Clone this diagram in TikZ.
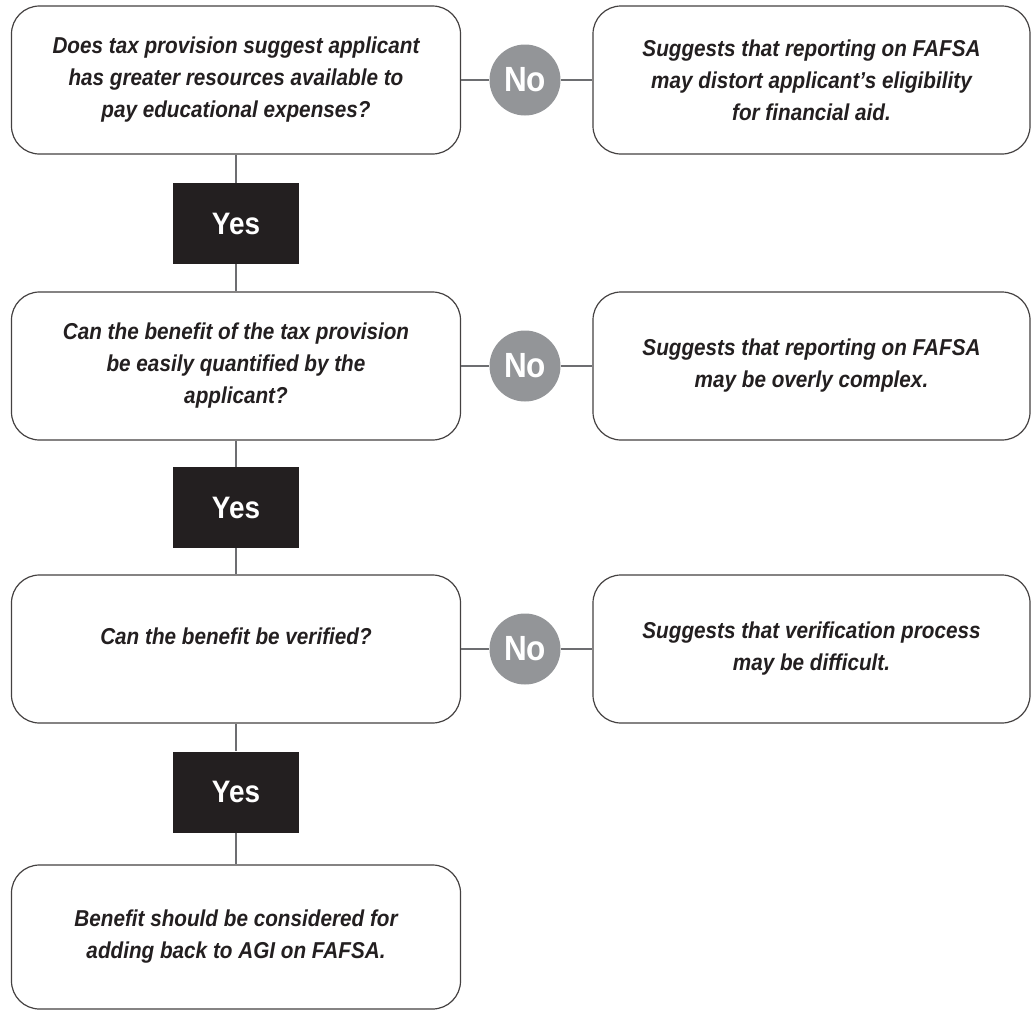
\documentclass[tikz,border=0pt]{standalone}
\usepackage{fontspec}
\setmainfont{Liberation Sans}[FakeStretch=0.9]
\definecolor{ink}{HTML}{231F20}
\definecolor{rule}{HTML}{6D6E71}
\definecolor{dot}{HTML}{939598}
\tikzset{
  question/.style={draw=ink!85, line width=1.2bp, rounded corners=28bp,
    minimum width=449bp, minimum height=148bp, align=center, text=ink,
    font=\fontsize{23bp}{32bp}\selectfont\bfseries\itshape},
  answer/.style={question, minimum width=437bp},
  yesbox/.style={fill=ink, text=white, minimum width=126bp, minimum height=81bp,
    font=\fontsize{31bp}{31bp}\selectfont\bfseries},
  nodot/.style={circle, fill=dot, text=white, minimum size=71bp, inner sep=0pt,
    font=\fontsize{35bp}{35bp}\selectfont\bfseries},
  link/.style={draw=rule, line width=1.5bp}
}
\begin{document}
\begin{tikzpicture}[x=1bp,y=-1bp]
\useasboundingbox (0,0) rectangle (1032,1011);

\node[question] (q1) at (236,80) {Does tax provision suggest applicant\\has greater resources available to\\pay educational expenses?};
\node[question] (q2) at (236,366) {Can the benefit of the tax provision\\be easily quantified by the\\applicant?};
\node[question, text depth=25bp] (q3) at (236,649) {Can the benefit be verified?};
\node[question, minimum height=144bp] (q4) at (236,937) {Benefit should be considered for\\adding back to AGI on FAFSA.};

\node[answer] (r1) at (811.5,80) {Suggests that reporting on FAFSA\\may distort applicant’s eligibility\\for financial aid.};
\node[answer] (r2) at (811.5,366) {Suggests that reporting on FAFSA\\may be overly complex.};
\node[answer] (r3) at (811.5,649) {Suggests that verification process\\may be difficult.};

\foreach \i/\y in {1/223.5,2/507.5,3/792}
  \node[yesbox] (y\i) at (236,\y) {Yes};
\foreach \i/\y in {1/80,2/366,3/649}
  \node[nodot] (n\i) at (525,\y) {No};

\foreach \from/\to in {q1/y1,y1/q2,q2/y2,y2/q3,q3/y3,y3/q4}
  \draw[link] (\from) -- (\to);
\foreach \i in {1,2,3}
  \draw[link] (q\i) -- (n\i) -- (r\i);
\end{tikzpicture}
\end{document}
